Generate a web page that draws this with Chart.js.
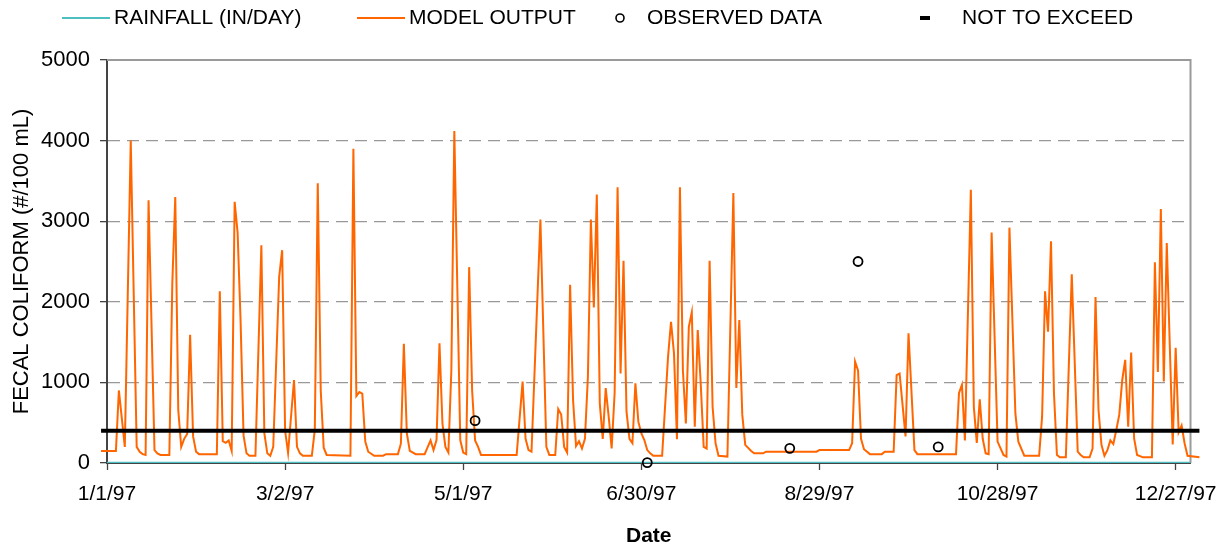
<!DOCTYPE html>
<html>
<head>
<meta charset="utf-8">
<script src="https://cdn.jsdelivr.net/npm/chart.js@4.4.1/dist/chart.umd.min.js"></script>
<style>
  html, body { margin: 0; padding: 0; background: #fff; }
  #wrap { width: 1229px; height: 547px; }
</style>
</head>
<body>
<div id="wrap"><canvas id="chart" width="1229" height="547"></canvas></div>
<script>
// x values are days counted from 1/1/97
const tickDays = [0, 60, 120, 180, 240, 300, 360];
const tickLabels = ["1/1/97", "3/2/97", "5/1/97", "6/30/97", "8/29/97", "10/28/97", "12/27/97"];

const rainDays = [0, 365];
const rainfall = [0, 0];

const modelDays = [
  -2, 3, 4, 6, 8, 10, 11, 12, 13, 14, 16, 17, 18, 21, 22, 23, 24, 25, 26, 27, 28, 29, 30, 31,
  37, 38, 39, 40, 41, 42, 43, 44, 45, 46, 47, 48, 50, 52, 53, 54, 55, 56, 58, 59, 60, 61,
  63, 64, 65, 66, 69, 70, 71, 72, 73, 74, 82, 83, 84, 85, 86, 87, 88, 90, 93, 94, 98, 99,
  100, 101, 102, 104, 107, 109, 110, 111, 112, 113, 114, 115, 116, 117, 119, 120, 121, 122,
  123, 124, 125, 126, 138, 140, 141, 142, 143, 146, 148, 149, 151, 152, 153, 154, 155, 156,
  157, 158, 159, 160, 161, 162, 163, 164, 165, 166, 167, 168, 169, 170, 171, 172, 173, 174,
  175, 176, 177, 178, 179, 180, 181, 182, 183, 184, 187, 189, 190, 191, 192, 193, 194, 195,
  196, 197, 198, 199, 200, 201, 202, 203, 204, 205, 206, 209, 211, 212, 213, 214, 215, 217,
  218, 221, 222, 239, 240, 250, 251, 252, 253, 254, 255, 257, 261, 262, 265, 266, 267, 269,
  270, 272, 273, 286, 287, 288, 289, 291, 292, 293, 294, 295, 296, 297, 298, 300, 302, 303,
  304, 306, 307, 309, 314, 315, 316, 317, 318, 319, 320, 321, 323, 325, 327, 328, 329, 331,
  332, 333, 334, 335, 336, 337, 338, 339, 340, 341, 342, 343, 344, 345, 346, 347, 349, 352,
  353, 354, 355, 356, 357, 359, 360, 361, 362, 363, 364, 368
];
const modelOutput = [
  150, 150, 900, 200, 4000, 200, 140, 110, 100, 3260, 160, 120, 100, 100, 2230, 3300, 660, 200, 300, 360, 1590, 330, 140, 110,
  110, 2130, 270, 250, 280, 150, 3240, 2860, 1760, 340, 120, 90, 90, 2700, 370, 120, 90, 200, 2310, 2640, 400, 125,
  1030, 200, 120, 90, 90, 410, 3470, 900, 190, 100, 90, 3900, 830, 880, 860, 265, 140, 90, 90, 110, 110, 240,
  1480, 370, 150, 110, 110, 280, 160, 285, 1485, 490, 200, 130, 1150, 4120, 285, 130, 110, 2430,
  900, 280, 200, 100, 100, 1010, 300, 160, 140, 3020, 200, 100, 100, 670, 600, 200, 130, 2210,
  780, 210, 270, 180, 300, 1070, 3020, 1930, 3330, 740, 300, 930, 575, 180, 865, 3420, 1110, 2510,
  640, 300, 245, 990, 510, 370, 285, 160, 120, 90, 90, 1320, 1750, 1360, 295, 3420, 1150, 490,
  1690, 1870, 450, 1650, 990, 200, 180, 2510, 700, 245, 90, 80, 3350, 930, 1775, 600, 225, 150,
  120, 120, 140, 140, 160, 160, 245, 1260, 1150, 300, 170, 110, 110, 140, 140, 1090, 1110, 330,
  1610, 160, 110, 110, 865, 970, 280, 3390, 700, 250, 790, 300, 120, 110, 2860, 265, 100, 80,
  2920, 615, 265, 90, 90, 575, 2130, 1630, 2750, 865, 100, 70, 70, 2340, 140, 100, 70, 70,
  180, 2060, 660, 225, 90, 160, 280, 235, 410, 600, 1030, 1280, 450, 1370, 305, 100, 70, 70,
  2490, 1130, 3150, 1010, 2730, 230, 1430, 380, 465, 245, 90, 70
];

const obsDays = [124, 182, 230, 253, 280];
const observed = [525, 5, 182, 2500, 200];

const limitDays = [-2, 368];
const notToExceed = [400, 400];

const toPoints = (xs, ys) => xs.map((x, i) => ({ x: x, y: ys[i] }));

const FONT = '"Liberation Sans", Arial, sans-serif';
Chart.defaults.font.family = FONT;
Chart.defaults.color = '#000';

const legendItems = [
  { text: "RAINFALL (IN/DAY)", kind: "line", color: "#4dbfc3", x: 62 },
  { text: "MODEL OUTPUT", kind: "line", color: "#ff6600", x: 357 },
  { text: "OBSERVED DATA", kind: "circle", color: "#000", x: 615 },
  { text: "NOT TO EXCEED", kind: "dash", color: "#000", x: 920 }
];

// legend across the top, drawn by hand so each symbol keeps its own width
const topLegend = {
  id: 'topLegend',
  afterDraw(chart) {
    const ctx = chart.ctx;
    const y = 18;
    ctx.save();
    ctx.font = '21px ' + FONT;
    ctx.textBaseline = 'middle';
    ctx.fillStyle = '#000';
    legendItems.forEach(item => {
      let tx;
      if (item.kind === 'line') {
        ctx.strokeStyle = item.color;
        ctx.lineWidth = 2;
        ctx.beginPath();
        ctx.moveTo(item.x, y);
        ctx.lineTo(item.x + 48, y);
        ctx.stroke();
        tx = item.x + 52;
      } else if (item.kind === 'circle') {
        ctx.strokeStyle = item.color;
        ctx.lineWidth = 1.6;
        ctx.beginPath();
        ctx.arc(item.x + 5, y, 4, 0, Math.PI * 2);
        ctx.stroke();
        tx = item.x + 32;
      } else {
        ctx.fillStyle = item.color;
        ctx.fillRect(item.x, y - 2, 10, 4);
        ctx.fillStyle = '#000';
        tx = item.x + 42;
      }
      ctx.fillText(item.text, tx, y);
    });
    ctx.restore();
  }
};

// gray frame on the top and right of the plot
const plotFrame = {
  id: 'plotFrame',
  beforeDatasetsDraw(chart) {
    const { ctx, chartArea: a } = chart;
    ctx.save();
    ctx.strokeStyle = '#9a9a9a';
    ctx.lineWidth = 2;
    ctx.beginPath();
    ctx.moveTo(a.left, a.top);
    ctx.lineTo(a.right, a.top);
    ctx.lineTo(a.right, a.bottom);
    ctx.stroke();
    ctx.restore();
  }
};

new Chart(document.getElementById('chart'), {
  type: 'line',
  data: {
    datasets: [
      {
        label: 'RAINFALL (IN/DAY)',
        data: toPoints(rainDays, rainfall),
        borderColor: '#4dbfc3',
        borderWidth: 2.5,
        pointRadius: 0,
        order: 2
      },
      {
        label: 'MODEL OUTPUT',
        data: toPoints(modelDays, modelOutput),
        borderColor: '#ff6600',
        borderWidth: 2,
        pointRadius: 0,
        tension: 0,
        clip: false,
        order: 3
      },
      {
        label: 'OBSERVED DATA',
        data: toPoints(obsDays, observed),
        showLine: false,
        pointStyle: 'circle',
        pointRadius: 4.5,
        pointBorderWidth: 1.8,
        pointBorderColor: '#000',
        pointBackgroundColor: 'rgba(255,255,255,0)',
        clip: false,
        order: 0
      },
      {
        label: 'NOT TO EXCEED',
        data: toPoints(limitDays, notToExceed),
        borderColor: '#000',
        borderWidth: 4,
        pointRadius: 0,
        clip: false,
        order: 1
      }
    ]
  },
  options: {
    responsive: false,
    animation: false,
    devicePixelRatio: 1,
    layout: { padding: { top: 60, right: 33, left: 0, bottom: 0 } },
    plugins: {
      legend: { display: false },
      tooltip: { enabled: false }
    },
    scales: {
      x: {
        type: 'linear',
        min: 0,
        max: 365,
        afterBuildTicks: axis => { axis.ticks = tickDays.map(v => ({ value: v })); },
        afterFit: axis => { axis.height = 84; },
        ticks: {
          callback: (value, index) => tickLabels[index],
          font: { size: 21 },
          color: '#000',
          maxRotation: 0,
          autoSkip: false,
          padding: 12
        },
        grid: {
          drawOnChartArea: false,
          drawTicks: true,
          tickLength: 7,
          tickColor: '#444',
          tickWidth: 1.3
        },
        border: { color: '#444', width: 2 },
        title: {
          display: true,
          text: 'Date',
          font: { size: 21, weight: 'bold' },
          color: '#000',
          padding: { top: 0, bottom: -2 }
        }
      },
      y: {
        min: 0,
        max: 5000,
        afterFit: axis => { axis.width = 107; },
        ticks: {
          stepSize: 1000,
          callback: value => String(value),
          font: { size: 22 },
          color: '#000',
          padding: 10
        },
        grid: {
          color: ctx => (ctx.tick.value === 0 || ctx.tick.value === 5000) ? 'rgba(0,0,0,0)' : '#999',
          lineWidth: 1.3,
          drawTicks: true,
          tickLength: 7,
          tickColor: '#444',
          tickWidth: 1.3
        },
        border: { color: '#444', width: 2, dash: [12, 7] },
        title: {
          display: true,
          text: 'FECAL COLIFORM (#/100 mL)',
          font: { size: 22 },
          color: '#000',
          padding: { top: 9, bottom: 0 }
        }
      }
    }
  },
  plugins: [topLegend, plotFrame]
});
</script>
</body>
</html>
